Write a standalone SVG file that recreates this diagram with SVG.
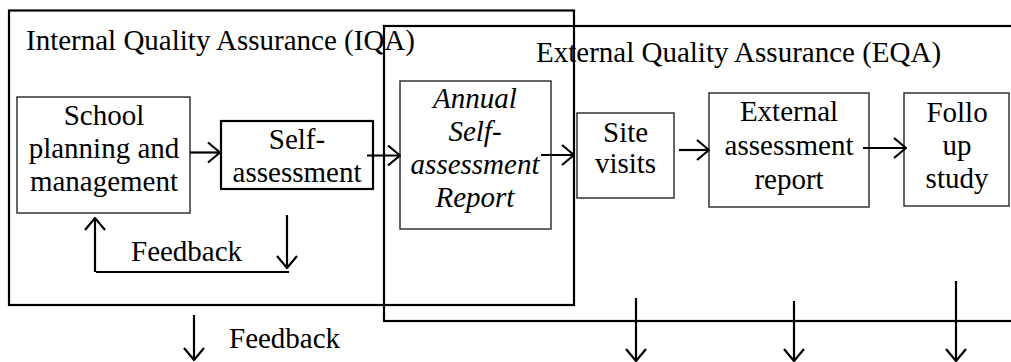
<svg xmlns="http://www.w3.org/2000/svg" width="1011" height="362" viewBox="0 0 1011 362" font-family="Liberation Serif, Times New Roman, serif" font-size="29">
<style>
.frame{fill:none;stroke:#000;stroke-width:2.2}
.node{fill:#fff;stroke:#333;stroke-width:1.5}
.node2{fill:#fff;stroke:#000;stroke-width:2.2}
.arr{stroke:#000;stroke-width:2.2;fill:none;marker-end:url(#ah)}
.ln{stroke:#000;stroke-width:2.2;fill:none}
</style>
<defs>
<marker id="ah" markerUnits="userSpaceOnUse" viewBox="0 0 14 22" refX="13" refY="11" markerWidth="14" markerHeight="22" orient="auto">
<path d="M1,1 L13,11 L1,21" fill="none" stroke="#000" stroke-width="2.2"/>
</marker>
</defs>
<rect x="0" y="0" width="1011" height="362" fill="#fff"/>
<g id="eqa">
<rect class="frame" x="384" y="26" width="640" height="295"/>
<text x="536" y="62">External Quality Assurance (EQA)</text>
</g>
<g id="iqa">
<rect class="frame" x="9" y="10.5" width="565" height="294.5"/>
<text x="26" y="50">Internal Quality Assurance (IQA)</text>
</g>
<g id="school">
<rect class="node" x="17" y="97" width="173" height="116"/>
<g font-family="Tinos, Liberation Serif, serif">
<text x="63.7" y="125">School</text>
<text x="28.7" y="158">planning and</text>
<text x="29.9" y="191">management</text>
</g>
</g>
<g id="self">
<rect class="node2" x="221" y="121" width="152" height="68"/>
<g font-family="Tinos, Liberation Serif, serif">
<text x="268.8" y="149">Self-</text>
<text x="232.6" y="182">assessment</text>
</g>
</g>
<g id="annual">
<rect class="node" x="400" y="81" width="151" height="148"/>
<g font-family="Tinos, Liberation Serif, serif" font-style="italic">
<text x="433.1" y="108">Annual</text>
<text x="448.4" y="141">Self-</text>
<text x="410.6" y="174">assessment</text>
<text x="435.5" y="207">Report</text>
</g>
</g>
<g id="site">
<rect class="node" x="577" y="113" width="97" height="85"/>
<g font-family="Tinos, Liberation Serif, serif">
<text x="603" y="142">Site</text>
<text x="594.9" y="173">visits</text>
</g>
</g>
<g id="external">
<rect class="node" x="709" y="93" width="160" height="114"/>
<g font-family="Tinos, Liberation Serif, serif">
<text x="739.9" y="121">External</text>
<text x="724.6" y="155">assessment</text>
<text x="754.4" y="189">report</text>
</g>
</g>
<g id="follo">
<rect class="node" x="904" y="93" width="105" height="113"/>
<g font-family="Tinos, Liberation Serif, serif">
<text x="926.4" y="122">Follo</text>
<text x="942.5" y="155">up</text>
<text x="925.6" y="188">study</text>
</g>
</g>
<g id="feedback-inner">
<text x="131" y="261">Feedback</text>
</g>
<g id="feedback-outer">
<text x="229" y="348">Feedback</text>
</g>
<g id="connectors">
<line class="arr" x1="190" y1="152.5" x2="220" y2="152.5"/>
<line class="arr" x1="367" y1="155.5" x2="400" y2="155.5"/>
<line class="arr" x1="541" y1="155" x2="574" y2="155"/>
<line class="arr" x1="679" y1="150" x2="709" y2="150"/>
<line class="arr" x1="863" y1="148" x2="906" y2="148"/>
<line class="arr" x1="95" y1="272" x2="95" y2="218"/>
<line class="arr" x1="287" y1="215" x2="287" y2="268"/>
<line class="ln" x1="96" y1="272" x2="289" y2="272"/>
<line class="arr" x1="194" y1="315" x2="194" y2="360"/>
<line class="arr" x1="636" y1="298" x2="636" y2="361"/>
<line class="arr" x1="794" y1="301" x2="794" y2="361"/>
<line class="arr" x1="956" y1="281" x2="956" y2="361"/>
</g>
</svg>
